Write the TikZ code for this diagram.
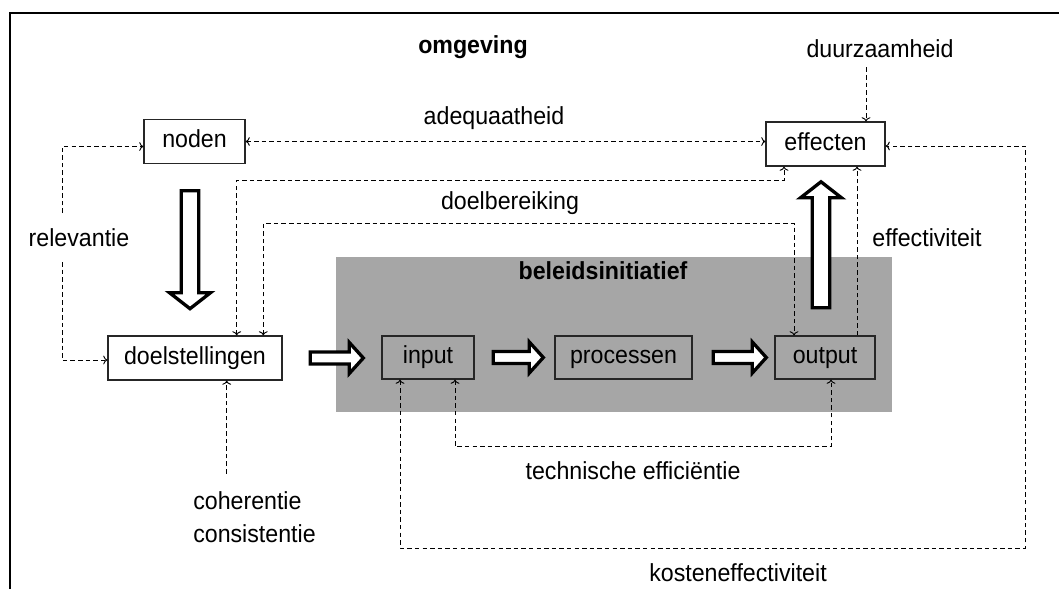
\documentclass[tikz,border=0pt]{standalone}
\usepackage{fontspec}
\setmainfont[FakeStretch=0.94]{Liberation Sans}
\usetikzlibrary{arrows.meta,calc}
\definecolor{panel}{RGB}{166,166,166}

\begin{document}
\begin{tikzpicture}[x=0.75pt,y=-0.75pt,
  every node/.style={font=\fontsize{18.5}{24.75}\selectfont, inner sep=0pt},
  box/.style={draw=black!85, line width=0.9pt, minimum height=33pt,
    text height=13.3pt, text depth=3.9pt},
  lbl/.style={text height=13.3pt, text depth=3.9pt},
  dl/.style={draw=black, line width=0.7pt, dash pattern=on 3.4pt off 2.3pt,
    arrows={Straight Barb[length=4.5pt,width=8pt,line width=0.7pt]-Straight Barb[length=4.5pt,width=8pt,line width=0.7pt]}},
  blk/.style={draw=black, fill=white, line width=2.5pt, line join=miter, miter limit=10},
  frame/.style={draw=black, line width=1.5pt}]

\useasboundingbox (0,0) rectangle (1059,589);

% outer frame (open at right and bottom)
\draw[frame] (10.3,589) -- (10.3,13.3) -- (1059,13.3);

% policy initiative panel
\fill[panel] (335.5,257.3) rectangle (892.3,411.7);

% boxes
\node[box, minimum width=75.75pt] (noden) at (194.5,141.5) {noden};
\node[box, minimum width=89.25pt] (effecten) at (825.5,144) {effecten};
\node[box, minimum width=130.5pt] (doel) at (195,358) {doelstellingen};
\node[box, minimum width=69pt, minimum height=32.25pt] (input) at (428,357.5) {input};
\node[box, minimum width=102.75pt, minimum height=32.25pt] (proc) at (623.5,357.5) {processen};
\node[box, minimum width=75pt, minimum height=32.25pt] (output) at (825,357.5) {output};

% labels
\node[lbl, font=\fontsize{18.5}{20}\selectfont\bfseries] (omg) at (473,47) {omgeving};
\node[lbl, font=\fontsize{18.5}{20}\selectfont\bfseries] (bel) at (603,273) {beleidsinitiatief};
\node[lbl] (dz) at (880,51) {duurzaamheid};
\node[lbl] (adq) at (494,118) {adequaatheid};
\node[lbl] (dlb) at (510,203) {doelbereiking};
\node[lbl] (rel) at (79,240) {relevantie};
\node[lbl] (eff) at (927,240) {effectiviteit};
\node[lbl] (tech) at (633,473) {technische efficiëntie};
\node[lbl] (kost) at (738,575) {kosteneffectiviteit};
\node[align=left, anchor=north west] (coh) at (193,491) {coherentie\\consistentie};

% block arrows (hollow)
\draw[blk] ($(noden.south)+(-4.5,26.6)$) ++(-8.75,0) -- ++(0,102) -- ++(-11.75,0)
  -- ++(20.5,16) -- ++(20.5,-16) -- ++(-11.75,0) -- ++(0,-102) -- cycle;
\draw[blk] ($(output.north)+(-4,-27.6)$) ++(-8.75,0) -- ++(0,-110) -- ++(-11.75,0)
  -- ++(20.5,-16) -- ++(20.5,16) -- ++(-11.75,0) -- ++(0,110) -- cycle;
\draw[blk] ($(doel.east)+(27.7,0)$) ++(0,-6) -- ++(39,0) -- ++(0,-9.5) -- ++(14,15.5)
  -- ++(-14,15.5) -- ++(0,-9.5) -- ++(-39,0) -- cycle;
\draw[blk] ($(input.east)+(18.7,0)$) ++(0,-6) -- ++(36,0) -- ++(0,-9.5) -- ++(14,15.5)
  -- ++(-14,15.5) -- ++(0,-9.5) -- ++(-36,0) -- cycle;
\draw[blk] ($(proc.east)+(20.7,0)$) ++(0,-6) -- ++(39,0) -- ++(0,-9.5) -- ++(14,15.5)
  -- ++(-14,15.5) -- ++(0,-9.5) -- ++(-39,0) -- cycle;

% dashed relations
\draw[dl,<->] (noden.east) -- (noden.east -| effecten.west);

\coordinate (rt) at (62,213);
\coordinate (rb) at (62,262);
\draw[dl,->] (rt) |- ($(noden.west)+(0,5)$);
\draw[dl,->] (rb) |- ($(doel.west)+(0,2)$);

\draw[dl,<->] ($(doel.north)+(41.7,0)$) -- ++(0,-155) -| ($(effecten.south)+(-41.5,0)$);
\draw[dl,<->] ($(doel.north)+(68.3,0)$) -- ++(0,-112) -| ($(output.north)+(-31,0)$);

\coordinate (ef) at ($(output.north)+(32,0)$);
\draw[dl,->] (ef) -- (ef |- effecten.south);

\coordinate (dzs) at ($(effecten.north)+(40.5,-54)$);
\draw[dl,->] (dzs) -- (dzs |- effecten.north);

\draw[dl,<->] ($(input.south)+(27,0)$) -- ++(0,67) -| ($(output.south)+(6,0)$);

\coordinate (kc) at (1025,548);
\draw[dl,<->] ($(input.south)+(-28,0)$) |- (kc) |- ($(effecten.east)+(0,2)$);

\coordinate (cs) at ($(doel.south)+(31.7,93)$);
\draw[dl,->] (cs) -- (cs |- doel.south);

\end{tikzpicture}
\end{document}
